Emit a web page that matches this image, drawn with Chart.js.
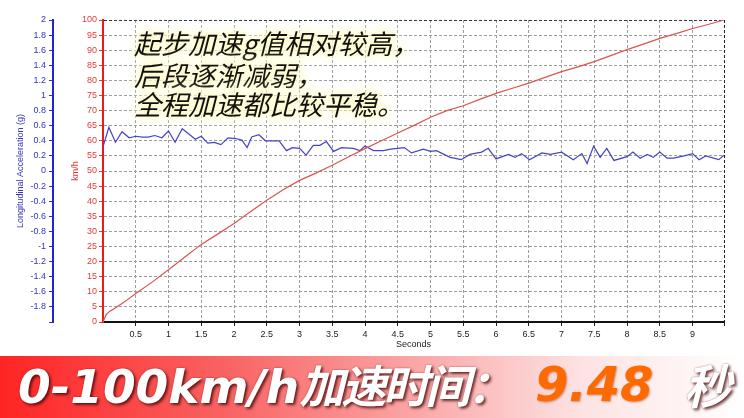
<!DOCTYPE html>
<html>
<head>
<meta charset="utf-8">
<script src="https://cdn.jsdelivr.net/npm/chart.js@4.4.0/dist/chart.umd.min.js"></script>
<style>
html, body { margin: 0; padding: 0; background: #fff; }
#wrap { position: relative; width: 744px; height: 418px; overflow: hidden; }
#plot { position: absolute; left: 0; top: 0; width: 744px; height: 355px; }
.note {
  position: absolute; left: 134px; white-space: nowrap;
  font-family: "Noto Sans CJK SC", sans-serif; font-size: 27px; line-height: 30px;
  font-style: italic; color: #111;
  text-shadow: 0 0 3px #fffbd0, 0 0 6px #fff6b8, 0 0 10px #fff8c4, 0 0 14px #fffbd8, 0 0 18px #fffde6;
}
#banner {
  position: absolute; left: 0; top: 356px; width: 744px; height: 62px;
  background: linear-gradient(90deg, #ff2424 0%, #f96262 30%, #fbacac 58%, #fde2e2 78%, #ffffff 100%);
}
.big {
  position: absolute; top: -3px; line-height: 62px; white-space: nowrap;
  font-family: "DejaVu Sans", "Noto Sans CJK SC", sans-serif; font-weight: bold; font-style: italic;
  font-size: 47px; color: #fff;
  text-shadow: 2px 2px 3px rgba(70, 0, 0, 0.75), 0 0 2px rgba(90, 0, 0, 0.5);
}
.big .cjk { font-family: "Noto Sans CJK SC", sans-serif; font-size: 45px; letter-spacing: -3px; }
</style>
</head>
<body>
<div id="wrap">
  <div id="plot"><canvas id="c"></canvas></div>
  <div class="note" style="top:28px">起步加速g值相对较高，</div>
  <div class="note" style="top:60px">后段逐渐减弱，</div>
  <div class="note" style="top:89px">全程加速都比较平稳。</div>
  <div id="banner">
    <span class="big" style="left:18px">0-100km/h<span class="cjk">加速时间：</span></span>
    <span class="big" style="left:535px;font-size:48px;color:#ff6a00;text-shadow:1px 1px 2px rgba(120,40,0,0.4)">9.48</span>
    <span class="big" style="left:684px"><span class="cjk" style="font-size:47px">秒</span></span>
  </div>
</div>
<script>
// Run data: speed (km/h) and longitudinal g vs time.
const speedTime = [0, 0.05, 0.1, 0.2, 0.35, 0.5, 0.75, 1.0, 1.25, 1.5, 1.75, 2.0, 2.25, 2.5, 2.75, 3.0,
  3.25, 3.5, 3.75, 4.0, 4.25, 4.5, 4.75, 5.0, 5.25, 5.5, 5.75, 6.0, 6.25, 6.5, 6.75, 7.0,
  7.25, 7.5, 7.75, 8.0, 8.25, 8.5, 8.75, 9.0, 9.25, 9.48];
const speedKmh = [0, 2.5, 3.5, 4.8, 7, 9.4, 13.2, 17.3, 21.5, 25.7, 29.1, 32.6, 36.5, 40.3, 43.8, 46.9,
  49.3, 51.9, 54.7, 57.4, 60, 62.6, 65.1, 67.8, 70.0, 71.6, 73.7, 75.7, 77.4, 79.1, 81, 82.9,
  84.5, 86.2, 88.2, 90.2, 92, 93.9, 95.5, 97.2, 98.6, 100];

const accelTime = [0, 0.09, 0.19, 0.29, 0.4, 0.5, 0.6, 0.69, 0.79, 0.9, 1.0, 1.1, 1.21, 1.31, 1.41, 1.5,
  1.6, 1.7, 1.8, 1.91, 2.02, 2.12, 2.2, 2.27, 2.38, 2.48, 2.6, 2.69, 2.8, 2.89, 3.0, 3.1,
  3.21, 3.31, 3.41, 3.52, 3.64, 3.82, 3.92, 4.0, 4.13, 4.28, 4.39, 4.5, 4.6, 4.71, 4.89, 5.0,
  5.09, 5.3, 5.47, 5.6, 5.78, 5.88, 6.0, 6.19, 6.29, 6.39, 6.51, 6.7, 6.83, 7.0, 7.18, 7.31,
  7.39, 7.49, 7.59, 7.69, 7.8, 8.0, 8.09, 8.2, 8.31, 8.4, 8.5, 8.61, 8.71, 8.87, 9.0, 9.1,
  9.2, 9.4, 9.48];
const accelG = [0.32, 0.58, 0.38, 0.52, 0.44, 0.46, 0.45, 0.45, 0.47, 0.44, 0.53, 0.38, 0.56, 0.49, 0.42, 0.46,
  0.37, 0.38, 0.35, 0.44, 0.43, 0.41, 0.31, 0.45, 0.48, 0.40, 0.40, 0.40, 0.27, 0.31, 0.30, 0.21,
  0.34, 0.34, 0.39, 0.26, 0.31, 0.30, 0.27, 0.33, 0.27, 0.27, 0.29, 0.30, 0.31, 0.24, 0.29, 0.26,
  0.27, 0.18, 0.15, 0.22, 0.25, 0.30, 0.16, 0.22, 0.18, 0.23, 0.15, 0.24, 0.22, 0.25, 0.15, 0.23,
  0.10, 0.33, 0.18, 0.30, 0.14, 0.19, 0.25, 0.17, 0.22, 0.18, 0.25, 0.17, 0.17, 0.20, 0.23, 0.15,
  0.20, 0.15, 0.21];

const secondTicks = [0.5, 1, 1.5, 2, 2.5, 3, 3.5, 4, 4.5, 5, 5.5, 6, 6.5, 7, 7.5, 8, 8.5, 9];
const runEnd = 9.48;

const pairs = (xs, ys) => xs.map((x, i) => ({ x: x, y: ys[i] }));

Chart.defaults.font.family = "'Liberation Sans', Arial, sans-serif";
Chart.defaults.font.size = 9;

const GRID = '#9c9c9c';
const RED = '#e43a3a';
const BLUE = '#3434b8';

new Chart(document.getElementById('c'), {
  type: 'line',
  data: {
    datasets: [
      { label: 'km/h', data: pairs(speedTime, speedKmh), yAxisID: 'ySpeed',
        borderColor: '#dd5252', borderWidth: 1.2, pointRadius: 0, tension: 0 },
      { label: 'g', data: pairs(accelTime, accelG), yAxisID: 'yAcc',
        borderColor: '#4545c0', borderWidth: 1.2, pointRadius: 0, tension: 0 }
    ]
  },
  options: {
    responsive: true,
    maintainAspectRatio: false,
    animation: false,
    layout: { padding: { top: 20, right: 20, left: 0, bottom: 0 } },
    plugins: { legend: { display: false }, tooltip: { enabled: false } },
    scales: {
      x: {
        type: 'linear', min: 0, max: runEnd,
        afterBuildTicks: s => { s.ticks = secondTicks.concat([runEnd]).map(v => ({ value: v })); },
        afterFit: s => { s.height = 33; },
        ticks: { color: '#222', padding: 3, maxRotation: 0, autoSkip: false,
          callback: v => v === runEnd ? '' : String(v) },
        grid: { color: c => c.tick && c.tick.value === runEnd ? '#222' : GRID, tickColor: '#222', tickLength: 4 },
        border: { color: '#111', width: 2, dash: [3, 2] },
        title: { display: true, text: 'Seconds', color: '#222', padding: { top: 0, bottom: 5 } }
      },
      ySpeed: {
        position: 'left', min: 0, max: 100, weight: 0,
        afterFit: s => { s.width = 50; },
        ticks: { stepSize: 5, color: RED, padding: 2 },
        grid: { color: c => c.tick && c.tick.value === 100 ? '#333' : GRID, tickColor: RED, tickLength: 4 },
        border: { color: '#e81c1c', width: 2, dash: [3, 2] },
        title: { display: true, text: 'km/h', color: RED, padding: { top: 17, bottom: 0 } }
      },
      yAcc: {
        position: 'left', min: -2, max: 2, weight: 1,
        afterFit: s => { s.width = 53; },
        ticks: { stepSize: 0.2, color: BLUE, padding: 3,
          callback: v => v < -1.99 ? '' : String(Math.round(v * 10) / 10) },
        grid: { drawOnChartArea: false, tickColor: BLUE, tickLength: 4 },
        border: { color: '#2424c8', width: 2 },
        title: { display: true, text: 'Longitudinal Acceleration (g)', color: BLUE, padding: { top: 15, bottom: 0 } }
      }
    }
  }
});
</script>
</body>
</html>
